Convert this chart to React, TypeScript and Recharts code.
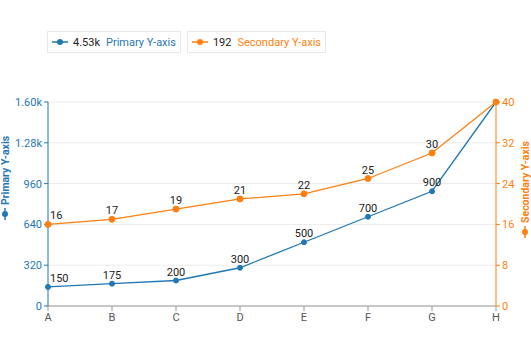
import React from 'react';
import {
  LineChart, Line, XAxis, YAxis, CartesianGrid, LabelList,
} from 'recharts';

const categories = ['A', 'B', 'C', 'D', 'E', 'F', 'G', 'H'];
const primaryValues = [150, 175, 200, 300, 500, 700, 900, 1600];
const secondaryValues = [16, 17, 19, 21, 22, 25, 30, 40];
const primaryTicks = [0, 320, 640, 960, 1280, 1600];
const secondaryTicks = [0, 8, 16, 24, 32, 40];
const primaryTotal = '4.53k';
const secondaryTotal = '192';

const BLUE = '#1f77b4';
const ORANGE = '#ff7f0e';
const FONT = 'Roboto, "Noto Sans", sans-serif';

const data = categories.map((c, i) => ({ cat: c, p: primaryValues[i], s: secondaryValues[i] }));

const fmtPrimary = (v: number) => (v >= 1000 ? `${(v / 1000).toFixed(2)}k` : `${v}`);

function PointLabel(props: any) {
  const { x, y, value, index } = props;
  // last points sit on the top edge, their labels are cut off
  if (index === categories.length - 1) return null;
  const first = index === 0;
  return (
    <text
      x={first ? x + 2 : x}
      y={y - 5}
      textAnchor={first ? 'start' : 'middle'}
      fontSize={11}
      fill="#222"
      fontFamily={FONT}
    >
      {value}
    </text>
  );
}

function AxisTitle({ x, y, text, color }: { x: number; y: number; text: string; color: string }) {
  return (
    <g transform={`translate(${x},${y}) rotate(-90)`}>
      <line x1={-6} x2={6} y1={0} y2={0} stroke={color} strokeWidth={1.5} />
      <circle cx={0} cy={0} r={3} fill={color} />
      <text x={9} y={0} dy="0.35em" fontSize={10.5} fontWeight="bold" fill={color} fontFamily={FONT}>
        {text}
      </text>
    </g>
  );
}

function LegendBox() {
  const items = [
    { total: primaryTotal, name: 'Primary Y-axis', color: BLUE },
    { total: secondaryTotal, name: 'Secondary Y-axis', color: ORANGE },
  ];
  return (
    <div
      style={{
        position: 'absolute', left: 47, top: 31, display: 'flex', gap: 6,
        fontFamily: FONT, fontSize: 11,
      }}
    >
      {items.map((it) => (
        <div
          key={it.name}
          style={{
            display: 'flex', alignItems: 'center', height: 20, padding: '0 4px',
            border: '1px solid #e8e8e8', background: '#fff',
          }}
        >
          <svg width={16} height={8} style={{ marginRight: 5 }}>
            <line x1={0} x2={16} y1={4} y2={4} stroke={it.color} strokeWidth={1.5} />
            <circle cx={8} cy={4} r={3} fill={it.color} />
          </svg>
          <span style={{ color: '#222', marginRight: 6 }}>{it.total}</span>
          <span style={{ color: it.color }}>{it.name}</span>
        </div>
      ))}
    </div>
  );
}

export default function App() {
  return (
    <div style={{ position: 'absolute', left: 0, top: 0, width: 531, height: 354, background: '#fff' }}>
      <LineChart width={531} height={354} data={data} margin={{ top: 102, right: 0, left: 0, bottom: 18 }}>
        <CartesianGrid yAxisId="left" vertical={false} stroke="#ebebeb" />
        <XAxis
          dataKey="cat"
          scale="point"
          padding={{ left: 0, right: 0 }}
          height={30}
          stroke="#999"
          tickLine={{ stroke: '#999' }}
          tick={{ fill: '#555', fontSize: 11, fontFamily: FONT }}
          tickSize={5}
        />
        <YAxis
          yAxisId="left"
          width={48}
          domain={[0, 1600]}
          ticks={primaryTicks}
          tickFormatter={fmtPrimary}
          stroke={BLUE}
          tickLine={{ stroke: BLUE }}
          tick={{ fill: BLUE, fontSize: 11, fontFamily: FONT }}
          tickSize={4}
        />
        <YAxis
          yAxisId="right"
          orientation="right"
          width={35}
          domain={[0, 40]}
          ticks={secondaryTicks}
          stroke={ORANGE}
          tickLine={{ stroke: ORANGE }}
          tick={{ fill: ORANGE, fontSize: 11, fontFamily: FONT }}
          tickSize={4}
        />
        <Line
          yAxisId="left"
          dataKey="p"
          stroke={BLUE}
          strokeWidth={1.3}
          dot={{ r: 2.5, fill: BLUE, stroke: BLUE, strokeWidth: 1 }}
          isAnimationActive={false}
        >
          <LabelList dataKey="p" content={PointLabel} />
        </Line>
        <Line
          yAxisId="right"
          dataKey="s"
          stroke={ORANGE}
          strokeWidth={1.3}
          dot={{ r: 3, fill: ORANGE, stroke: ORANGE, strokeWidth: 1 }}
          isAnimationActive={false}
        >
          <LabelList dataKey="s" content={PointLabel} />
        </Line>
        <AxisTitle x={5} y={214} text="Primary Y-axis" color={BLUE} />
        <AxisTitle x={525} y={232} text="Secondary Y-axis" color={ORANGE} />
      </LineChart>
      <LegendBox />
    </div>
  );
}
